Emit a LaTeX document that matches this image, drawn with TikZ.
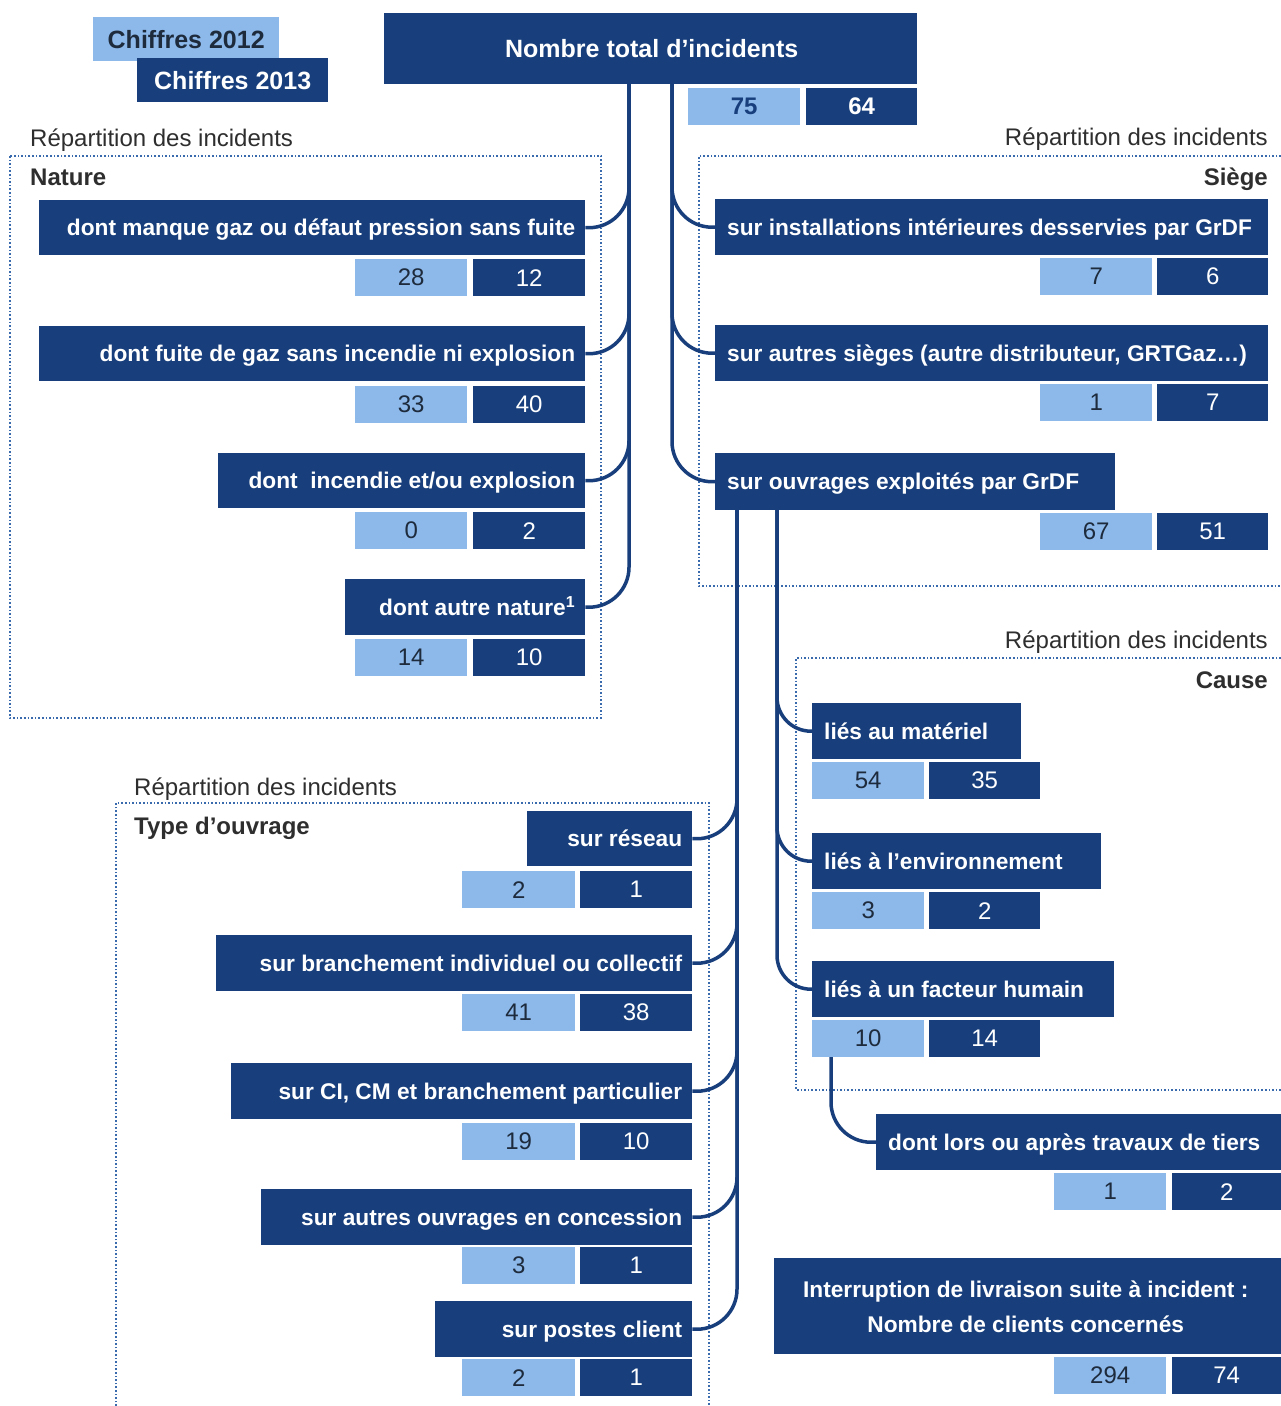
\documentclass[tikz,border=0pt]{standalone}
\usepackage{fontspec}
\setmainfont{Liberation Sans}
\definecolor{navy}{HTML}{183F7C}
\definecolor{lightb}{HTML}{8CB8EA}
\definecolor{ink}{HTML}{1E2B3C}
\definecolor{gris}{HTML}{2E2E2E}
\definecolor{dotb}{HTML}{3A6AAE}
\newcommand\bxf{\bfseries\fontsize{22.7}{27}\selectfont}
\newcommand\nmf{\fontsize{24}{28}\selectfont}
\tikzset{
  navyb/.style={fill=navy, draw=none, inner sep=0pt, anchor=north west},
  btxt/.style={text=white, font=\bxf, inner sep=0pt},
  lnum/.style={fill=lightb, text=ink, font=\nmf, inner sep=0pt, minimum height=37pt, anchor=north west},
  dnum/.style={fill=navy, text=white, font=\nmf, inner sep=0pt, minimum height=37pt, anchor=north west},
  conn/.style={draw=navy, line width=3.5pt},
  frame/.style={draw=dotb, line width=1.6pt, dotted},
  sect/.style={text=gris, font=\fontsize{24}{28}\selectfont, inner sep=0pt},
  secth/.style={text=gris, font=\bfseries\fontsize{24}{28}\selectfont, inner sep=0pt},
}
\begin{document}
\begin{tikzpicture}[x=1pt,y=-1pt]
\useasboundingbox (0,0) rectangle (1281,1406);
\fill[white] (0,0) rectangle (1281,1406);

% dotted frames
\draw[frame] (10,156) rectangle (601,718);
\draw[frame] (1281,156) -- (699,156) -- (699,586) -- (1281,586);
\draw[frame] (1281,658) -- (796,658) -- (796,1090) -- (1281,1090);
\draw[frame] (116,1406) -- (116,803) -- (709,803) -- (709,1406);

% section labels
\node[sect, anchor=base west] (lab1) at (30,146) {Répartition des incidents};
\node[secth, anchor=base west] (nat) at (30,185) {Nature};
\node[sect, anchor=base east] (lab2) at (1268,145) {Répartition des incidents};
\node[secth, anchor=base east] (sie) at (1268,185) {Siège};
\node[sect, anchor=base east] (lab3) at (1268,648) {Répartition des incidents};
\node[secth, anchor=base east] (cau) at (1268,688) {Cause};
\node[sect, anchor=base west] (lab4) at (134,795) {Répartition des incidents};
\node[secth, anchor=base west] (typ) at (134,834) {Type d’ouvrage};

% legend
\node[lnum, minimum width=186pt, minimum height=44pt, font=\bfseries\fontsize{25}{29}\selectfont] (l12) at (93,17) {Chiffres 2012};
\node[dnum, minimum width=191pt, minimum height=44pt, font=\bfseries\fontsize{25}{29}\selectfont] (l13) at (137,58) {Chiffres 2013};

% total
\node[navyb, minimum width=533pt, minimum height=71pt] (tot) at (384,13) {};
\node[btxt, font=\bfseries\fontsize{25}{29}\selectfont, anchor=base] at ([xshift=1pt,yshift=-9pt]tot.center) {Nombre total d’incidents};
\node[lnum, minimum width=112pt, font=\bfseries\fontsize{24}{28}\selectfont, text=navy] (tota) at (688,88) {75};
\node[dnum, minimum width=111pt, font=\bfseries\fontsize{24}{28}\selectfont] (totb) at (806,88) {64};

% Nature
\node[navyb, minimum width=546pt, minimum height=55pt] (n1) at (39,200) {};
\node[btxt, anchor=base east] at ([xshift=-10pt,yshift=-8pt]n1.east) {dont manque gaz ou défaut pression sans fuite};
\node[lnum, minimum width=112pt] (n1a) at (355,259) {28};
\node[dnum, minimum width=112pt] (n1b) at (473,259) {12};

\node[navyb, minimum width=546pt, minimum height=55pt] (n2) at (39,326) {};
\node[btxt, anchor=base east] at ([xshift=-10pt,yshift=-8pt]n2.east) {dont fuite de gaz sans incendie ni explosion};
\node[lnum, minimum width=112pt] (n2a) at (355,386) {33};
\node[dnum, minimum width=112pt] (n2b) at (473,386) {40};

\node[navyb, minimum width=367pt, minimum height=55pt] (n3) at (218,453) {};
\node[btxt, anchor=base east] at ([xshift=-10pt,yshift=-8pt]n3.east) {dont\ \ incendie et/ou explosion};
\node[lnum, minimum width=112pt] (n3a) at (355,512) {0};
\node[dnum, minimum width=112pt] (n3b) at (473,512) {2};

\node[navyb, minimum width=240pt, minimum height=56pt] (n4) at (345,579) {};
\node[btxt, anchor=base east] at ([xshift=-10pt,yshift=-8pt]n4.east) {dont autre nature\textsuperscript{1}};
\node[lnum, minimum width=112pt] (n4a) at (355,639) {14};
\node[dnum, minimum width=112pt] (n4b) at (473,639) {10};

% Siege
\node[navyb, minimum width=553pt, minimum height=56pt] (s1) at (715,199) {};
\node[btxt, anchor=base west] at ([xshift=12pt,yshift=-8pt]s1.west) {sur installations intérieures desservies par GrDF};
\node[lnum, minimum width=112pt] (s1a) at (1040,258) {7};
\node[dnum, minimum width=111pt] (s1b) at (1157,258) {6};

\node[navyb, minimum width=553pt, minimum height=56pt] (s2) at (715,325) {};
\node[btxt, anchor=base west] at ([xshift=12pt,yshift=-8pt]s2.west) {sur autres sièges (autre distributeur, GRTGaz…)};
\node[lnum, minimum width=112pt] (s2a) at (1040,384) {1};
\node[dnum, minimum width=111pt] (s2b) at (1157,384) {7};

\node[navyb, minimum width=400pt, minimum height=57pt] (s3) at (715,453) {};
\node[btxt, anchor=base west] at ([xshift=12pt,yshift=-8pt]s3.west) {sur ouvrages exploités par GrDF};
\node[lnum, minimum width=112pt] (s3a) at (1040,513) {67};
\node[dnum, minimum width=111pt] (s3b) at (1157,513) {51};

% Cause
\node[navyb, minimum width=209pt, minimum height=56pt] (c1) at (812,703) {};
\node[btxt, anchor=base west] at ([xshift=12pt,yshift=-8pt]c1.west) {liés au matériel};
\node[lnum, minimum width=112pt] (c1a) at (812,762) {54};
\node[dnum, minimum width=111pt] (c1b) at (929,762) {35};

\node[navyb, minimum width=289pt, minimum height=56pt] (c2) at (812,833) {};
\node[btxt, anchor=base west] at ([xshift=12pt,yshift=-8pt]c2.west) {liés à l’environnement};
\node[lnum, minimum width=112pt] (c2a) at (812,892) {3};
\node[dnum, minimum width=111pt] (c2b) at (929,892) {2};

\node[navyb, minimum width=302pt, minimum height=56pt] (c3) at (812,961) {};
\node[btxt, anchor=base west] at ([xshift=12pt,yshift=-8pt]c3.west) {liés à un facteur humain};
\node[lnum, minimum width=112pt] (c3a) at (812,1020) {10};
\node[dnum, minimum width=111pt] (c3b) at (929,1020) {14};

\node[navyb, minimum width=405pt, minimum height=56pt] (d) at (876,1114) {};
\node[btxt, anchor=base west] at ([xshift=12pt,yshift=-8pt]d.west) {dont lors ou après travaux de tiers};
\node[lnum, minimum width=112pt] (da) at (1054,1173) {1};
\node[dnum, minimum width=109pt] (db) at (1172,1173) {2};

% Interruption
\node[navyb, minimum width=507pt, minimum height=96pt] (intr) at (774,1258) {};
\node[btxt, align=center, font=\bfseries\fontsize{22.7}{35}\selectfont] at ([xshift=-2pt,yshift=-1pt]intr.center) {Interruption de livraison suite à incident :\\Nombre de clients concernés};
\node[lnum, minimum width=112pt] (ia) at (1054,1357) {294};
\node[dnum, minimum width=109pt] (ib) at (1172,1357) {74};

% Type d'ouvrage
\node[navyb, minimum width=165pt, minimum height=55pt] (t1) at (527,811) {};
\node[btxt, anchor=base east] at ([xshift=-10pt,yshift=-8pt]t1.east) {sur réseau};
\node[lnum, minimum width=113pt] (t1a) at (462,871) {2};
\node[dnum, minimum width=112pt] (t1b) at (580,871) {1};

\node[navyb, minimum width=476pt, minimum height=56pt] (t2) at (216,935) {};
\node[btxt, anchor=base east] at ([xshift=-10pt,yshift=-8pt]t2.east) {sur branchement individuel ou collectif};
\node[lnum, minimum width=113pt] (t2a) at (462,994) {41};
\node[dnum, minimum width=112pt] (t2b) at (580,994) {38};

\node[navyb, minimum width=461pt, minimum height=56pt] (t3) at (231,1063) {};
\node[btxt, anchor=base east] at ([xshift=-10pt,yshift=-8pt]t3.east) {sur CI, CM et branchement particulier};
\node[lnum, minimum width=113pt] (t3a) at (462,1123) {19};
\node[dnum, minimum width=112pt] (t3b) at (580,1123) {10};

\node[navyb, minimum width=431pt, minimum height=56pt] (t4) at (261,1189) {};
\node[btxt, anchor=base east] at ([xshift=-10pt,yshift=-8pt]t4.east) {sur autres ouvrages en concession};
\node[lnum, minimum width=113pt] (t4a) at (462,1247) {3};
\node[dnum, minimum width=112pt] (t4b) at (580,1247) {1};

\node[navyb, minimum width=257pt, minimum height=56pt] (t5) at (435,1301) {};
\node[btxt, anchor=base east] at ([xshift=-10pt,yshift=-8pt]t5.east) {sur postes client};
\node[lnum, minimum width=113pt] (t5a) at (462,1359) {2};
\node[dnum, minimum width=112pt] (t5b) at (580,1359) {1};

% connectors
\coordinate (tl) at (629,84);
\coordinate (tr) at (672,84);
\coordinate (oa) at (737,510);
\coordinate (ob) at (777,510);
\coordinate (hd) at (831,1057);
\begin{scope}[conn, rounded corners=40pt]
\draw (tl) |- (n1.east);
\draw (tl) |- (n2.east);
\draw (tl) |- (n3.east);
\draw (tl) |- (n4.east);
\draw (tr) |- (s1.west);
\draw (tr) |- (s2.west);
\draw (tr) |- (s3.west);
\draw (oa) |- (t1.east);
\draw (oa) |- (t2.east);
\draw (oa) |- (t3.east);
\draw (oa) |- (t4.east);
\draw (oa) |- (t5.east);
\draw (hd) |- (d.west);
\end{scope}
\begin{scope}[conn, rounded corners=34pt]
\draw (ob) |- (c1.west);
\draw (ob) |- (c2.west);
\draw (ob) |- (c3.west);
\end{scope}
\end{tikzpicture}
\end{document}
